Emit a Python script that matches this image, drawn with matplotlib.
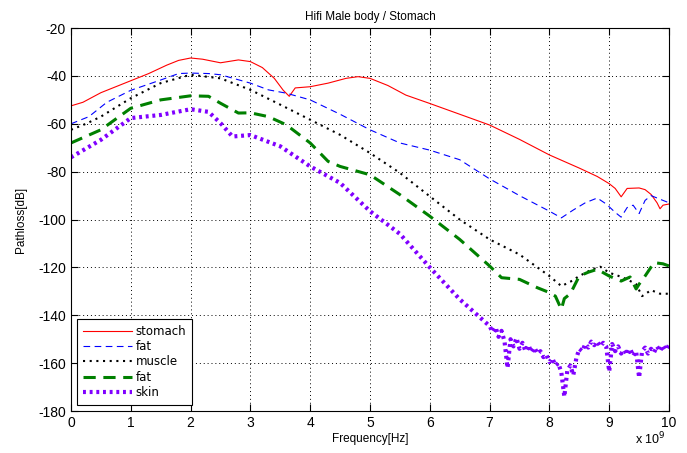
import numpy as np
import matplotlib.pyplot as plt

# frequency in units of 1e9 Hz, pathloss in dB
stomach_f = [0, 0.2, 0.5, 0.8, 1.0, 1.3, 1.6, 1.8, 2.0, 2.2, 2.5, 2.8, 3.0, 3.2, 3.4, 3.55, 3.65, 3.75,
             4.0, 4.3, 4.6, 4.8, 5.0, 5.3, 5.6, 6.0, 6.5, 7.0, 7.5, 8.0, 8.5, 8.8, 9.0, 9.1, 9.2, 9.3,
             9.5, 9.6, 9.7, 9.8, 9.85, 9.9, 10]
stomach = [-52.5, -51, -47, -44, -42, -39, -35.5, -33.5, -32.5, -33, -34.5, -33.3, -34, -36.5, -41, -46,
           -48.5, -45, -44.5, -43, -41, -40.3, -41, -44, -48, -51.5, -56, -60.5, -66.5, -73, -78.5, -82,
           -85, -87, -90.5, -87, -86.8, -87.5, -89.5, -93, -95.5, -94, -93.5]

fat1_f = [0, 0.3, 0.6, 1.0, 1.5, 1.8, 2.0, 2.3, 2.5, 3.0, 3.3, 3.6, 4.0, 4.5, 5.0, 5.5, 6.0, 6.5, 7.0,
          7.5, 8.0, 8.2, 8.4, 8.6, 8.8, 8.95, 9.1, 9.2, 9.3, 9.4, 9.5, 9.6, 9.7, 9.85, 10]
fat1 = [-60, -57, -51, -46, -41.7, -39, -38.8, -39, -39.5, -43, -45.8, -47.2, -50, -56, -62.5, -68,
        -71, -75, -83, -90, -96.5, -99.3, -96, -93, -91, -93.5, -97, -99, -95, -94, -97.5, -92, -90,
        -91.5, -93]

muscle_f = [0, 0.25, 0.5, 1.0, 1.5, 2.0, 2.5, 3.0, 3.5, 4.0, 4.5, 5.0, 5.5, 6.0, 6.5, 7.0, 7.5, 8.0,
            8.2, 8.35, 8.5, 8.7, 8.85, 9.0, 9.15, 9.3, 9.45, 9.55, 9.7, 9.85, 10]
muscle = [-62.5, -60, -57, -49.3, -43, -39.5, -41, -45.8, -52, -58.3, -64.6, -72.2, -80.5, -90.3, -100,
          -108.3, -114.6, -123.6, -127.8, -126, -123.6, -121, -119.7, -122.2, -123.5, -125, -127, -132,
          -129.5, -131, -131]

fat2_f = [0, 0.5, 1.0, 1.5, 2.0, 2.3, 2.5, 2.8, 3.0, 3.3, 3.6, 4.0, 4.3, 4.5, 5.0, 5.5, 6.0, 6.5, 7.0,
          7.2, 7.5, 7.8, 8.0, 8.1, 8.2, 8.25, 8.35, 8.5, 8.65, 8.8, 9.0, 9.2, 9.35, 9.45, 9.5, 9.6,
          9.75, 9.9, 10]
fat2 = [-68, -62.5, -53.5, -50, -48.3, -48.5, -51.4, -55.5, -55.4, -57, -60.4, -68, -75.7, -77.8,
        -81.3, -89.6, -98.6, -108.3, -119.4, -124.3, -125, -128.5, -130.5, -132, -137.5, -133, -131,
        -123.6, -122, -120.8, -123.6, -125.7, -124, -129, -127, -123.6, -118, -118.5, -119.4]

skin_f = [0, 0.5, 1.0, 1.5, 2.0, 2.3, 2.5, 2.7, 3.0, 3.5, 4.0, 4.5, 5.0, 5.5, 6.0, 6.5,
          7.0, 7.05, 7.1, 7.15, 7.2, 7.25, 7.3, 7.35, 7.4, 7.45, 7.5, 7.55, 7.6, 7.65, 7.7, 7.75,
          7.8, 7.85, 7.9, 7.95, 8.0, 8.05, 8.1, 8.15, 8.2, 8.25, 8.3, 8.35, 8.4, 8.45, 8.5, 8.55,
          8.6, 8.65, 8.7, 8.75, 8.8, 8.85, 8.9, 8.95, 9.0, 9.05, 9.1, 9.15, 9.2, 9.25, 9.3, 9.35,
          9.4, 9.45, 9.5, 9.55, 9.6, 9.65, 9.7, 9.75, 9.8, 9.85, 9.9, 9.95, 10.0]
skin = [-74, -66.7, -57.6, -56.3, -53.9, -55, -59.7, -65.3, -64.7, -69.4, -77.8, -84.7, -96.5, -106,
        -120, -133.3,
        -144.5, -147, -145, -149, -146.5, -151, -162, -150, -153, -149.5, -154, -151.5, -155, -152.5,
        -155.5, -153.5, -156, -155, -157.5, -156.5, -159.5, -158, -161, -160, -164, -174, -163, -161,
        -165, -158, -154, -155, -152, -153.5, -151, -152.5, -151, -153, -151.5, -153, -163.5, -152,
        -155, -153, -156, -154.5, -156.5, -154, -157, -155, -166, -155, -153.5, -156, -154, -155.5,
        -153, -155, -152.5, -154.5, -152.5]

plt.rcParams['font.family'] = ['Liberation Sans', 'DejaVu Sans']
plt.rcParams['axes.unicode_minus'] = False

fig = plt.figure(figsize=(6.87, 4.53), dpi=100)
ax = fig.add_axes([0.1033, 0.0927, 0.8705, 0.8453])

ax.plot(stomach_f, stomach, color='#ff0000', lw=0.8, ls='-', label='stomach')
ax.plot(fat1_f, fat1, color='#0000ff', lw=0.8, ls=(0, (6, 4)), label='fat')
ax.plot(muscle_f, muscle, color='black', lw=1.5, ls=(0, (1, 2.2)), label='muscle')
ax.plot(fat2_f, fat2, color='#008000', lw=2.2, ls=(0, (4, 2.5)), label='fat')
ax.plot(skin_f, skin, color='#8000ff', lw=3, ls=(0, (0.7, 0.9)), label='skin')

ax.set_xlim(0, 10)
ax.set_ylim(-180, -20)
ax.set_xticks(range(0, 11))
ax.set_yticks(range(-180, -19, 20))
ax.grid(True, ls=(0, (1, 3)), color='black', lw=0.7)
ax.tick_params(direction='in', top=True, right=True, labelsize=10, length=5)
for s in ax.spines.values():
    s.set_linewidth(0.8)

ax.set_title('Hifi Male body / Stomach', fontsize=8.5)
ax.set_xlabel('Frequency[Hz]', fontsize=8.5, labelpad=2)
ax.set_ylabel('Pathloss[dB]', fontsize=8.5, labelpad=8)
ax.text(0.995, -0.052, 'x 10$^9$', transform=ax.transAxes, ha='right', va='top', fontsize=9)

leg = ax.legend(loc='lower left', prop={'family': 'DejaVu Sans', 'size': 8.5}, handlelength=4.2,
                fancybox=False, edgecolor='black', framealpha=1, borderaxespad=0.55,
                labelspacing=0.2, handletextpad=0.3, borderpad=0.45)
leg.get_frame().set_linewidth(0.8)

fig.savefig('out.png', dpi=100)
